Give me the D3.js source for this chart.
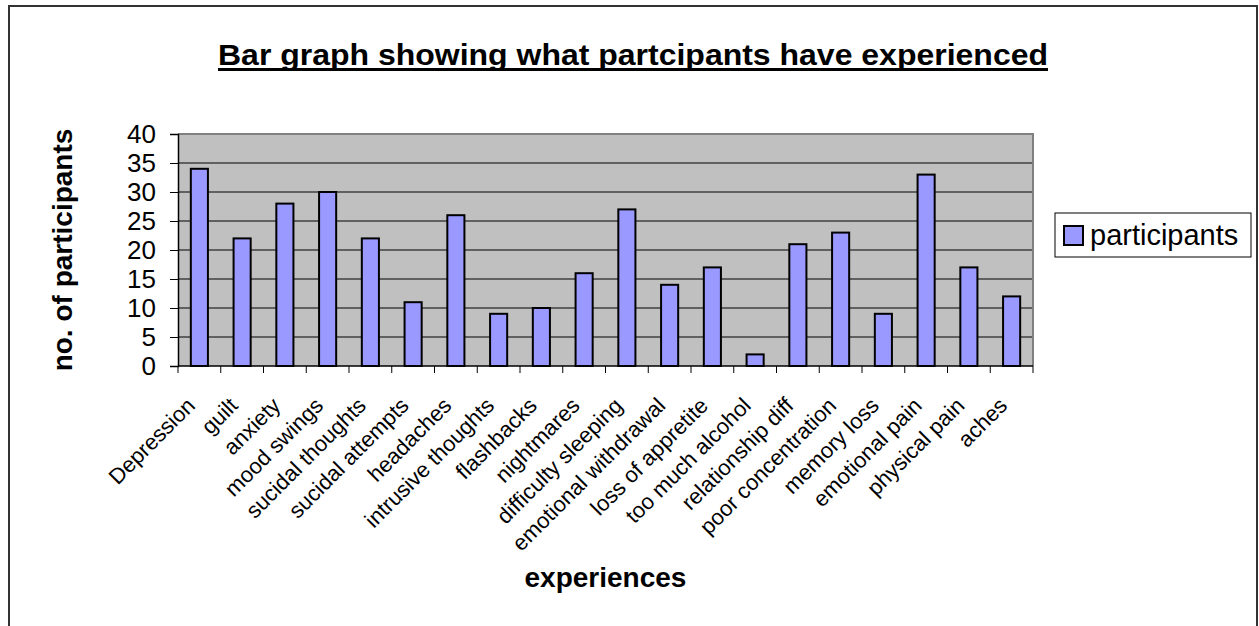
<head>
  <meta charset="UTF-8">
  <script src="https://d3js.org/d3.v7.min.js"></script>
</head>
<body>
  <svg id="chart"></svg>
</body>
<style>
  body { margin: 0; background: #fff; }
  text { font-family: 'Liberation Sans', Arial, sans-serif; fill: #000; }
  .bold { font-weight: bold; }
</style>
<script type="text/javascript">
  // data
  const categories = ['Depression', 'guilt', 'anxiety', 'mood swings', 'sucidal thoughts', 'sucidal attempts',
    'headaches', 'intrusive thoughts', 'flashbacks', 'nightmares', 'difficulty sleeping', 'emotional withdrawal',
    'loss of appretite', 'too much alcohol', 'relationship diff', 'poor concentration', 'memory loss',
    'emotional pain', 'physical pain', 'aches'];
  const participants = [34, 22, 28, 30, 22, 11, 26, 9, 10, 16, 27, 14, 17, 2, 21, 23, 9, 33, 17, 12];
  const yTicks = [0, 5, 10, 15, 20, 25, 30, 35, 40];
  const seriesName = 'participants';
  const chartTitle = 'Bar graph showing what partcipants have experienced';

  const width = 1259, height = 626;
  const plot = { left: 178, right: 1033, top: 134, bottom: 366 };

  const svg = d3.select('#chart')
    .attr('width', width)
    .attr('height', height);

  // outer chart border
  svg.append('rect')
    .attr('x', 9).attr('y', 6)
    .attr('width', 1248).attr('height', 640)
    .attr('fill', '#fff')
    .attr('stroke', '#333')
    .attr('stroke-width', 2);

  // title (original is a touch wider than the font gives, so stretch it)
  const title = svg.append('text')
    .attr('class', 'bold')
    .attr('x', 218).attr('y', 65)
    .attr('font-size', 30)
    .attr('textLength', 830)
    .attr('lengthAdjust', 'spacingAndGlyphs')
    .text(chartTitle);
  svg.append('rect')
    .attr('x', 218).attr('y', 68)
    .attr('width', 830).attr('height', 3)
    .attr('fill', '#000');

  const x = d3.scaleBand()
    .domain(categories)
    .range([plot.left, plot.right])
    .paddingInner(0.6)
    .paddingOuter(0.3);

  const y = d3.scaleLinear()
    .domain([0, 40])
    .range([plot.bottom, plot.top]);

  // plot background
  svg.append('rect')
    .attr('x', plot.left).attr('y', plot.top)
    .attr('width', plot.right - plot.left)
    .attr('height', plot.bottom - plot.top)
    .attr('fill', '#c0c0c0');

  // gridlines
  svg.append('g')
    .selectAll('line')
    .data(yTicks.filter(d => d > 0 && d < 40))
    .join('line')
    .attr('x1', plot.left).attr('x2', plot.right)
    .attr('y1', d => y(d)).attr('y2', d => y(d))
    .attr('stroke', '#000')
    .attr('stroke-width', 1);

  // plot frame (top / right are grey in the original)
  svg.append('path')
    .attr('d', `M${plot.left},${plot.top}H${plot.right}V${plot.bottom}`)
    .attr('fill', 'none')
    .attr('stroke', '#808080')
    .attr('stroke-width', 2);

  // bars
  svg.append('g')
    .selectAll('rect')
    .data(participants)
    .join('rect')
    .attr('x', (d, i) => x(categories[i]))
    .attr('y', d => y(d))
    .attr('width', x.bandwidth())
    .attr('height', d => y(0) - y(d))
    .attr('fill', '#9999ff')
    .attr('stroke', '#000')
    .attr('stroke-width', 2);

  // y axis
  const yAxis = svg.append('g')
    .attr('transform', `translate(${plot.left},0)`)
    .call(d3.axisLeft(y).tickValues(yTicks).tickSize(8).tickPadding(14));
  yAxis.select('.domain').attr('stroke', '#000').attr('stroke-width', 1.5);
  yAxis.selectAll('.tick line').attr('stroke', '#000');
  yAxis.selectAll('.tick text')
    .attr('font-size', 26)
    .attr('font-family', "'Liberation Sans', Arial, sans-serif")
    .attr('fill', '#000');

  // x axis: ticks sit between the categories
  const bounds = d3.range(categories.length + 1).map(i => plot.left + i * (plot.right - plot.left) / categories.length);
  svg.append('line')
    .attr('x1', plot.left).attr('x2', plot.right)
    .attr('y1', plot.bottom).attr('y2', plot.bottom)
    .attr('stroke', '#000').attr('stroke-width', 1.5);
  svg.append('g')
    .selectAll('line')
    .data(bounds)
    .join('line')
    .attr('x1', d => d).attr('x2', d => d)
    .attr('y1', plot.bottom).attr('y2', plot.bottom + 7)
    .attr('stroke', '#000');

  svg.append('g')
    .selectAll('text')
    .data(categories)
    .join('text')
    .attr('font-size', 22)
    .attr('text-anchor', 'end')
    .attr('transform', d => `translate(${x(d) + x.bandwidth() / 2 - 3},${plot.bottom + 41}) rotate(-45)`)
    .text(d => d);

  // axis titles
  svg.append('text')
    .attr('class', 'bold')
    .attr('font-size', 28)
    .attr('text-anchor', 'middle')
    .attr('transform', `translate(72,${(plot.top + plot.bottom) / 2}) rotate(-90)`)
    .text('no. of participants');

  svg.append('text')
    .attr('class', 'bold')
    .attr('font-size', 28)
    .attr('text-anchor', 'middle')
    .attr('x', (plot.left + plot.right) / 2)
    .attr('y', 587)
    .text('experiences');

  // legend
  const legend = svg.append('g');
  legend.append('rect')
    .attr('x', 1055).attr('y', 213)
    .attr('width', 196).attr('height', 44)
    .attr('fill', '#fff')
    .attr('stroke', '#000')
    .attr('stroke-width', 1);
  legend.append('rect')
    .attr('x', 1064).attr('y', 226)
    .attr('width', 19).attr('height', 19)
    .attr('fill', '#9999ff')
    .attr('stroke', '#000')
    .attr('stroke-width', 2);
  legend.append('text')
    .attr('x', 1090).attr('y', 245)
    .attr('font-size', 29)
    .text(seriesName);
</script>
